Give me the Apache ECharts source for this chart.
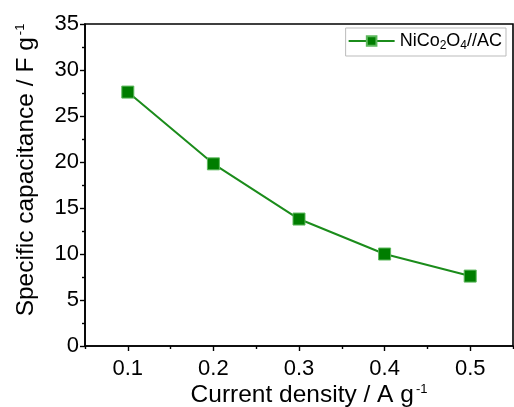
<!DOCTYPE html>
<html>
<head>
<meta charset="utf-8">
<script src="https://cdn.jsdelivr.net/npm/echarts@6/dist/echarts.min.js"></script>
<style>html,body{margin:0;padding:0;background:#fff}#c{width:514px;height:407px}</style>
</head>
<body>
<div id="c"></div>
<script>
const currentDensity = [0.1, 0.2, 0.3, 0.4, 0.5];
const capacitance = [27.6, 19.8, 13.8, 10.0, 7.6];
const seriesName = 'NiCo2O4//AC';
const xTickLabels = ['0.1', '0.2', '0.3', '0.4', '0.5'];
const yTickLabels = ['0', '5', '10', '15', '20', '25', '30', '35'];

const FONT = 'Liberation Sans';
const chart = echarts.init(document.getElementById('c'), null, {renderer: 'canvas'});
const axisLineStyle = {color: '#000', width: 1.6};
chart.setOption({
  animation: false,
  backgroundColor: '#fff',
  grid: {left: 85, right: 1, top: 24, bottom: 61, show: true, borderColor: '#000', borderWidth: 1.6,
         containLabel: false, outerBoundsMode: 'none'},
  legend: {
    data: [seriesName],
    right: 8, top: 28,
    itemWidth: 46, itemHeight: 12,
    borderColor: '#bbb', borderWidth: 1, padding: [4, 4, 4, 2],
    formatter: () => '{a|NiCo}{s|2}{a|O}{s|4}{a|//AC}',
    textStyle: {
      fontFamily: FONT, color: '#000',
      rich: {
        a: {fontFamily: FONT, fontSize: 18, color: '#000'},
        s: {fontFamily: FONT, fontSize: 12, color: '#000', verticalAlign: 'bottom', padding: [10, 0, 0, 0]}
      }
    }
  },
  xAxis: [
    {
      type: 'value', min: 0.05, max: 0.55, interval: 0.1, position: 'bottom',
      axisLine: {show: true, lineStyle: axisLineStyle},
      axisTick: {show: true, length: 3, lineStyle: {color: '#000', width: 1.4}},
      minorTick: {show: true, splitNumber: 2, length: 5, lineStyle: {color: '#000', width: 1.4}},
      axisLabel: {show: false},
      splitLine: {show: false}, minorSplitLine: {show: false},
      name: '{t|Current density / A g}{p|-1}',
      nameLocation: 'middle', nameGap: 37,
      nameTextStyle: {
        padding: [0, 0, 0, 20],
        rich: {
          t: {fontFamily: FONT, fontSize: 24.5, color: '#000'},
          p: {fontFamily: FONT, fontSize: 13, color: '#000', verticalAlign: 'top', padding: [0, 0, 12, 2]}
        }
      }
    },
    {
      type: 'value', min: 0.05, max: 0.55, interval: 0.05, position: 'bottom',
      axisLine: {show: false}, axisTick: {show: false},
      splitLine: {show: false},
      axisLabel: {
        margin: 12, fontFamily: FONT, fontSize: 22, color: '#000',
        formatter: v => {
          const k = Math.round(v * 100);
          if (k % 10 !== 0) return '';
          const idx = currentDensity.findIndex(d => Math.abs(d - v) < 1e-6);
          return idx >= 0 ? xTickLabels[idx] : '';
        }
      }
    }
  ],
  yAxis: {
    type: 'value', min: 0, max: 35, interval: 5,
    axisLine: {show: true, lineStyle: axisLineStyle},
    axisTick: {show: true, length: 5, lineStyle: {color: '#000', width: 1.4}},
    minorTick: {show: true, splitNumber: 2, length: 3, lineStyle: {color: '#000', width: 1.4}},
    splitLine: {show: false}, minorSplitLine: {show: false},
    axisLabel: {
      margin: 6, fontFamily: FONT, fontSize: 22, color: '#000',
      formatter: v => yTickLabels[Math.round(v / 5)]
    },
    name: '{t|Specific capacitance / F g}{p|-1}',
    nameLocation: 'middle', nameGap: 46, nameRotate: 90,
    nameTextStyle: {
      padding: [0, 0, 0, 30],
      rich: {
        t: {fontFamily: FONT, fontSize: 24.5, color: '#000'},
        p: {fontFamily: FONT, fontSize: 13, color: '#000', verticalAlign: 'top', padding: [0, 0, 12, 2]}
      }
    }
  },
  series: [{
    name: seriesName,
    type: 'line',
    xAxisIndex: 0,
    data: currentDensity.map((x, i) => [x, capacitance[i]]),
    symbol: 'rect', symbolSize: 12,
    lineStyle: {color: '#1b8c1b', width: 2},
    itemStyle: {color: '#007d00', borderColor: '#5cb85c', borderWidth: 1}
  }]
});
</script>
</body>
</html>
